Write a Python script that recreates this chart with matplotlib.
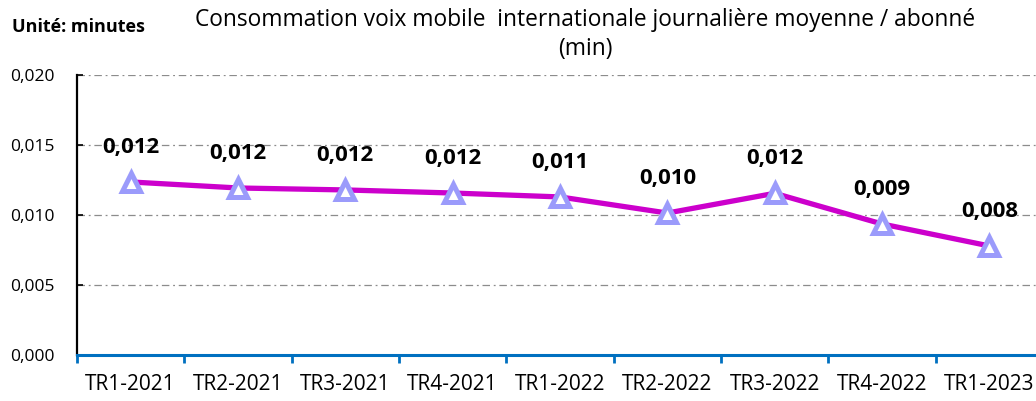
import matplotlib
matplotlib.use("Agg")
import matplotlib.pyplot as plt
from matplotlib.ticker import FixedLocator, FuncFormatter

categories = ["TR1-2021", "TR2-2021", "TR3-2021", "TR4-2021", "TR1-2022",
              "TR2-2022", "TR3-2022", "TR4-2022", "TR1-2023"]
values = [0.01236, 0.01193, 0.01179, 0.01157, 0.01129, 0.01014, 0.01155, 0.00936, 0.00779]
yticks = [0.000, 0.005, 0.010, 0.015, 0.020]

plt.rcParams['font.family'] = ['Open Sans', 'DejaVu Sans']

fig = plt.figure(figsize=(10.36, 4.01), dpi=100)
ax = fig.add_axes([77/1036, 1-355/401, (1043-77)/1036, (355-75)/401])

x = list(range(len(categories)))
ax.plot(x, values, color='#CC00CC', lw=3.8, zorder=3, solid_capstyle='round')
ax.plot(x, values, linestyle='none', marker='^', markersize=13, markerfacecolor='white',
        markeredgecolor='#9B9BFB', markeredgewidth=3.6, zorder=4)

for xi, v in zip(x, values):
    ax.annotate(f"{v:.3f}".replace('.', ','), (xi, v), xytext=(0, 25), textcoords='offset points',
                ha='center', va='center', fontsize=16, fontweight='bold', color='black', zorder=5)

ax.set_xlim(-0.5, len(categories) - 0.5)
ax.set_ylim(0, 0.020)
ax.set_yticks(yticks)
ax.yaxis.set_major_formatter(FuncFormatter(lambda v, p: f"{v:.3f}".replace('.', ',')))
ax.set_xticks(x)
ax.set_xticklabels(categories)
ax.xaxis.set_minor_locator(FixedLocator([i - 0.5 for i in range(len(categories) + 1)]))
ax.tick_params(axis='x', which='major', length=0, pad=14, labelsize=15)
ax.tick_params(axis='x', which='minor', length=6, width=2, color='#0070C0', direction='out')
ax.tick_params(axis='y', length=4, width=1.2, direction='in', labelsize=12.5, pad=16)

for yv in yticks[1:]:
    ax.axhline(yv, color='#8C8C8C', lw=0.9, linestyle=(0, (6, 3, 1.5, 3)), zorder=1)

for s in ['top', 'right']:
    ax.spines[s].set_visible(False)
ax.spines['left'].set_color('black')
ax.spines['left'].set_linewidth(1.6)
ax.spines['bottom'].set_color('#0070C0')
ax.spines['bottom'].set_linewidth(2.2)

fig.text(585/1036, 1-20/401, "Consommation voix mobile  internationale journalière moyenne / abonné",
         ha='center', va='center', fontsize=16.4)
fig.text(585/1036, 1-49/401, "(min)", ha='center', va='center', fontsize=16.4)
fig.text(12/1036, 1-27/401, "Unité: minutes", ha='left', va='center', fontsize=13, fontweight='bold')

fig.savefig("out.png", dpi=100)
